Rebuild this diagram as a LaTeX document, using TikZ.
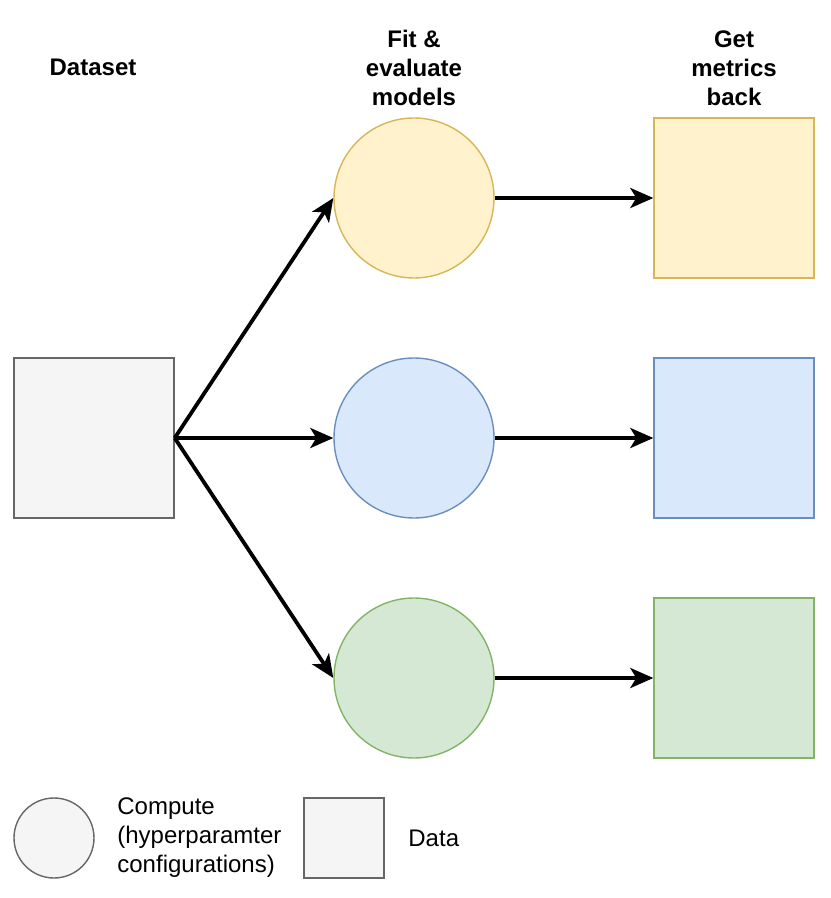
\documentclass[tikz,border=0pt]{standalone}
\usepackage{fontspec}
\setmainfont{Liberation Sans}
\usetikzlibrary{arrows.meta}
\definecolor{grayfill}{HTML}{F5F5F5}
\definecolor{graystroke}{HTML}{666666}
\definecolor{yfill}{HTML}{FFF2CC}
\definecolor{ystroke}{HTML}{D6B656}
\definecolor{bfill}{HTML}{DAE8FC}
\definecolor{bstroke}{HTML}{6C8EBF}
\definecolor{gfill}{HTML}{D5E8D4}
\definecolor{gstroke}{HTML}{82B366}
\tikzset{
  sq/.style={draw, rectangle, minimum size=80pt, inner sep=0pt, line width=0.7pt},
  sqsmall/.style={draw, rectangle, minimum size=40pt, inner sep=0pt, line width=0.7pt},
  circ/.style={draw, circle, minimum size=80pt, inner sep=0pt, line width=0.7pt},
  circsmall/.style={draw, circle, minimum size=40pt, inner sep=0pt, line width=0.7pt},
  head/.style={font=\bfseries\fontsize{12pt}{14.5pt}\selectfont, align=center, inner sep=0pt},
  lbl/.style={font=\fontsize{12pt}{14.5pt}\selectfont, align=left, inner sep=0pt},
  arr/.style={-{Stealth[length=11.5pt,width=10pt,inset=3pt]}, line width=1.9pt, black}
}
\begin{document}
\begin{tikzpicture}[x=0.5pt,y=-0.5pt]
\useasboundingbox (0,0) rectangle (830,898);
% headers
\node[head] (hdata) at (93,67) {Dataset};
\node[head] (hfit) at (414,68) {Fit \&\\evaluate\\models};
\node[head] (hget) at (734,68) {Get\\metrics\\back};
% dataset
\node[sq, fill=grayfill, draw=graystroke] (ds) at (94,438) {};
% circles
\node[circ, fill=yfill, draw=ystroke] (c1) at (414,198) {};
\node[circ, fill=bfill, draw=bstroke] (c2) at (414,438) {};
\node[circ, fill=gfill, draw=gstroke] (c3) at (414,678) {};
% result squares
\node[sq, fill=yfill, draw=ystroke] (r1) at (734,198) {};
\node[sq, fill=bfill, draw=bstroke] (r2) at (734,438) {};
\node[sq, fill=gfill, draw=gstroke] (r3) at (734,678) {};
% arrows
\draw[arr] (ds.east) -- (c1.west);
\draw[arr] (ds.east) -- (c2.west);
\draw[arr] (ds.east) -- (c3.west);
\draw[arr] (c1.east) -- (r1.west);
\draw[arr] (c2.east) -- (r2.west);
\draw[arr] (c3.east) -- (r3.west);
% legend
\node[circsmall, fill=grayfill, draw=graystroke] (lc) at (54,838) {};
\node[lbl, anchor=west] (lct) at (117,838) {Compute\\(hyperparamter\\configurations)};
\node[sqsmall, fill=grayfill, draw=graystroke] (ls) at (344,838) {};
\node[lbl, anchor=west] (lst) at (408,838) {Data};
\end{tikzpicture}
\end{document}
